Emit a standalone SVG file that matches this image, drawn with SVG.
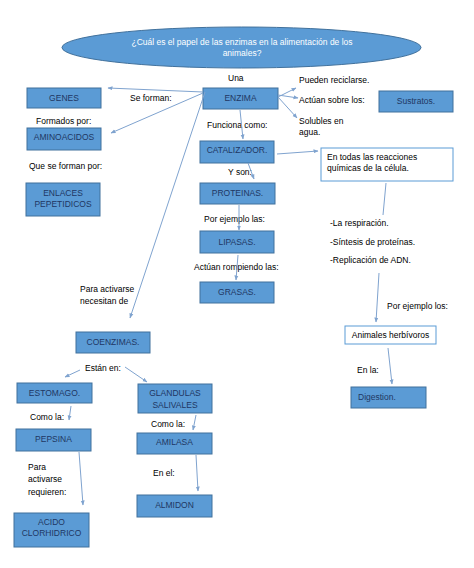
<svg xmlns="http://www.w3.org/2000/svg" width="474" height="568" viewBox="0 0 474 568">
<defs>
<marker id="ah" viewBox="0 0 10 10" refX="9" refY="5" markerWidth="5" markerHeight="5" orient="auto" markerUnits="userSpaceOnUse">
<path d="M0,1 L10,5 L0,9 z" fill="#7fa3cf"/>
</marker>
<style>
.b{fill:#5b9bd5;stroke:#41719c;stroke-width:1}
.w{fill:#ffffff;stroke:#5b9bd5;stroke-width:1}
.bt{font-family:"Liberation Sans",Arial,sans-serif;font-size:8.5px;fill:#1f3763;text-anchor:middle}
.t{font-family:"Liberation Sans",Arial,sans-serif;font-size:8.5px;fill:#000000}
.c{fill:none;stroke:#7fa3cf;stroke-width:1}
.a{marker-end:url(#ah)}
</style>
</defs>
<rect width="474" height="568" fill="#ffffff"/>

<g id="title">
<ellipse cx="241.5" cy="47.5" rx="179.5" ry="20.5" fill="#5b9bd5" stroke="#41719c"/>
<text class="t" x="242" y="45" text-anchor="middle" style="fill:#ffffff">¿Cuál es el papel de las enzimas en la alimentación de los</text>
<text class="t" x="242" y="56" text-anchor="middle" style="fill:#ffffff">animales?</text>
</g>

<g id="labels">
<text class="t" x="228" y="81">Una</text>
<text class="t" x="130" y="101">Se forman:</text>
<text class="t" x="299" y="83">Pueden reciclarse.</text>
<text class="t" x="299" y="103">Actúan sobre los:</text>
<text class="t" x="299" y="124">Solubles en</text>
<text class="t" x="299" y="135">agua.</text>
<text class="t" x="36" y="124">Formados por:</text>
<text class="t" x="207" y="128">Funciona como:</text>
<text class="t" x="29" y="169">Que se forman por:</text>
<text class="t" x="228" y="175">Y son:</text>
<text class="t" x="204" y="222">Por ejemplo las:</text>
<text class="t" x="330" y="226">-La respiración.</text>
<text class="t" x="330" y="245">-Síntesis de proteínas.</text>
<text class="t" x="330" y="263">-Replicación de ADN.</text>
<text class="t" x="194" y="270">Actúan rompiendo las:</text>
<text class="t" x="80" y="292">Para activarse</text>
<text class="t" x="80" y="304">necesitan de</text>
<text class="t" x="387" y="309">Por ejemplo los:</text>
<text class="t" x="85" y="371">Están en:</text>
<text class="t" x="357" y="373">En la:</text>
<text class="t" x="30" y="420">Como la:</text>
<text class="t" x="151" y="427">Como la:</text>
<text class="t" x="28" y="470">Para</text>
<text class="t" x="28" y="482">activarse</text>
<text class="t" x="28" y="495">requieren:</text>
<text class="t" x="153" y="476">En el:</text>
</g>

<g id="genes"><rect class="b" x="27" y="88" width="74" height="20"/><text class="bt" x="64" y="101">GENES</text></g>
<g id="enzima"><rect class="b" x="203" y="88" width="75" height="21"/><text class="bt" x="240.5" y="101">ENZIMA</text></g>
<g id="sustratos"><rect class="b" x="379" y="91" width="74" height="21"/><text class="bt" x="416" y="104">Sustratos.</text></g>
<g id="aminoacidos"><rect class="b" x="27" y="128" width="74" height="22"/><text class="bt" x="64" y="140">AMINOACIDOS</text></g>
<g id="catalizador"><rect class="b" x="200" y="141" width="74" height="22"/><text class="bt" x="237" y="153">CATALIZADOR.</text></g>
<g id="reacciones"><rect class="w" x="321" y="148" width="132" height="33"/><text class="t" x="327" y="160">En todas las reacciones</text><text class="t" x="327" y="171">químicas de la célula.</text></g>
<g id="enlaces"><rect class="b" x="26" y="183" width="74" height="33"/><text class="bt" x="63" y="196">ENLACES</text><text class="bt" x="63" y="207">PEPETIDICOS</text></g>
<g id="proteinas"><rect class="b" x="200" y="183" width="75" height="21"/><text class="bt" x="237.5" y="196">PROTEINAS.</text></g>
<g id="lipasas"><rect class="b" x="200" y="231" width="74" height="22"/><text class="bt" x="237" y="245">LIPASAS.</text></g>
<g id="grasas"><rect class="b" x="200" y="282" width="74" height="21"/><text class="bt" x="237" y="295">GRASAS.</text></g>
<g id="animales"><rect class="w" x="345" y="326" width="91" height="18"/><text class="t" x="390.5" y="338" text-anchor="middle">Animales herbívoros</text></g>
<g id="coenzimas"><rect class="b" x="76" y="332" width="74" height="21"/><text class="bt" x="113" y="345">COENZIMAS.</text></g>
<g id="estomago"><rect class="b" x="17" y="383" width="75" height="20"/><text class="bt" x="54.5" y="396">ESTOMAGO.</text></g>
<g id="glandulas"><rect class="b" x="138" y="384" width="74" height="29"/><text class="bt" x="175" y="396">GLANDULAS</text><text class="bt" x="175" y="408">SALIVALES</text></g>
<g id="digestion"><rect class="b" x="351" y="387" width="75" height="21"/><text class="bt" x="358" y="400" style="text-anchor:start">Digestion.</text></g>
<g id="pepsina"><rect class="b" x="16" y="429" width="75" height="22"/><text class="bt" x="53.5" y="442">PEPSINA</text></g>
<g id="amilasa"><rect class="b" x="137" y="433" width="75" height="21"/><text class="bt" x="174.5" y="445">AMILASA</text></g>
<g id="almidon"><rect class="b" x="137" y="495" width="75" height="22"/><text class="bt" x="174.5" y="508">ALMIDON</text></g>
<g id="acido"><rect class="b" x="14" y="513" width="75" height="34"/><text class="bt" x="51.5" y="525">ACIDO</text><text class="bt" x="51.5" y="536">CLORHIDRICO</text></g>

<g id="connectors">
<line class="c a" x1="203" y1="92" x2="108" y2="88"/>
<line class="c a" x1="203" y1="93" x2="111" y2="133"/>
<line class="c a" x1="205" y1="92" x2="130" y2="318"/>
<line class="c a" x1="240" y1="110" x2="243" y2="139"/>
<line class="c a" x1="278" y1="97" x2="296" y2="88"/>
<line class="c a" x1="278" y1="95" x2="298" y2="98"/>
<line class="c a" x1="278" y1="97" x2="297" y2="118"/>
<line class="c a" x1="277" y1="154" x2="318" y2="151"/>
<line class="c a" x1="248" y1="163" x2="254" y2="179"/>
<line class="c a" x1="239" y1="205" x2="239" y2="230"/>
<line class="c a" x1="238" y1="255" x2="236" y2="280"/>
<line class="c" x1="386" y1="183" x2="383" y2="215"/>
<line class="c a" x1="379" y1="273" x2="376" y2="322"/>
<line class="c a" x1="388" y1="348" x2="392" y2="384"/>
<line class="c a" x1="80" y1="370" x2="65" y2="377"/>
<line class="c a" x1="125" y1="367" x2="147" y2="382"/>
<line class="c a" x1="71" y1="406" x2="69" y2="420"/>
<line class="c a" x1="196" y1="415" x2="193" y2="430"/>
<line class="c a" x1="79" y1="452" x2="83" y2="505"/>
<line class="c a" x1="196" y1="455" x2="198" y2="491"/>
</g>
</svg>
